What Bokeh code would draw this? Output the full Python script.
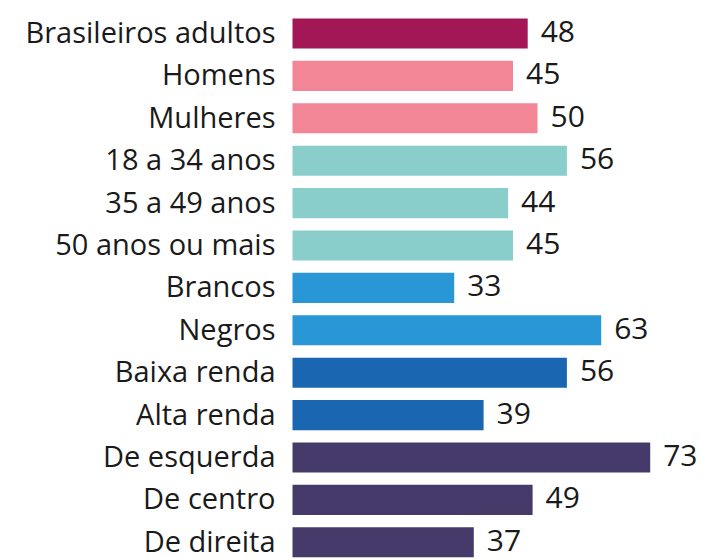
from bokeh.plotting import figure
from bokeh.models import ColumnDataSource, Range1d
from bokeh.core.properties import value
from bokeh.embed import file_html
from bokeh.resources import INLINE

categories = ["Brasileiros adultos", "Homens", "Mulheres", "18 a 34 anos", "35 a 49 anos",
              "50 anos ou mais", "Brancos", "Negros", "Baixa renda", "Alta renda",
              "De esquerda", "De centro", "De direita"]
values = [48, 45, 50, 56, 44, 45, 33, 63, 56, 39, 73, 49, 37]
colors = ["#A31756", "#F28696", "#F28696", "#89CECA", "#89CECA", "#89CECA",
          "#2996D5", "#2996D5", "#1B66B1", "#1B66B1", "#463A6B", "#463A6B", "#463A6B"]

rows = list(range(len(categories)))
src = ColumnDataSource(dict(y=rows, v=values, c=colors, cat=categories,
                            lbl=[str(v) for v in values], zero=[0] * len(values)))

W, H = 702, 559
px_per_unit = 4.9
left_px = 292
row_h = 42.4
top_c = 33

p = figure(width=W, height=H, output_backend="svg", toolbar_location=None,
           x_range=Range1d(-left_px / px_per_unit, (W - left_px) / px_per_unit),
           y_range=Range1d((H - top_c) / row_h, -top_c / row_h),
           min_border=0, outline_line_color=None, background_fill_color="white",
           border_fill_color="white")
p.axis.visible = False
p.grid.visible = False

p.hbar(y="y", left=0, right="v", height=0.71, fill_color="c", line_color=None, source=src)

p.text(x="zero", y="y", text="cat", source=src, x_offset=-17, y_offset=-2,
       text_align="right", text_baseline="middle", text_font=value("Open Sans"),
       text_font_size="29px", text_color="#1a1a1a")

p.text(x="v", y="y", text="lbl", source=src, x_offset=13, y_offset=-2,
       text_align="left", text_baseline="middle", text_font=value("Open Sans"),
       text_font_size="30px", text_color="#1a1a1a")

open("out.html", "w").write(file_html(p, INLINE))
